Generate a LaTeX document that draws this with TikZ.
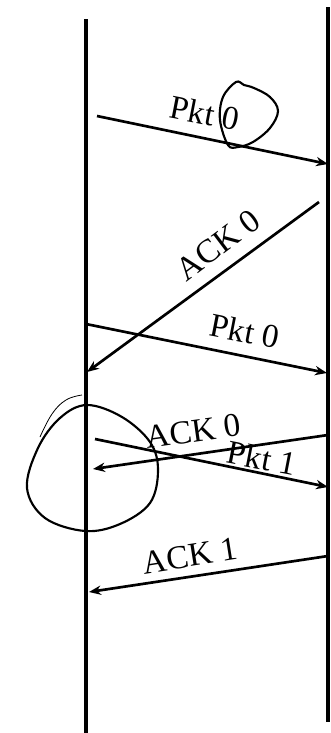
\documentclass[tikz,border=0pt]{standalone}
\usepackage{fontspec}
\setmainfont{Liberation Serif}
\usetikzlibrary{arrows.meta}

\tikzset{every picture/.style={line width=0.75pt}}

\begin{document}
\begin{tikzpicture}[
            x=0.75pt,
            y=0.75pt,
            yscale=-1,
            xscale=1,
            every node/.style={text=black},
            line width=0.75pt,
            timeline/.style={line width=2.4pt},
            msg/.style={line width=2pt,-{Stealth[length=9pt,width=7pt]}},
            msglabel/.style={font=\fontsize{25}{30}\selectfont,inner sep=0pt},
            scribble/.style={line width=1.6pt}
        ]
            \useasboundingbox (0,0) rectangle (330,733);
            \coordinate (sndtop) at (86,19);
            \coordinate (sndbot) at (86,733);
            \coordinate (rcvtop) at (328,7);
            \coordinate (rcvbot) at (328,722);
            \draw [timeline] (sndtop) -- (sndbot);
            \draw [timeline] (rcvtop) -- (rcvbot);
            \coordinate (pktzeroa) at (97,116);
            \coordinate (pktzeroaend) at (328,164);
            \coordinate (ackzeroa) at (319,202);
            \coordinate (ackzeroaend) at (87,372);
            \coordinate (pktzerob) at (86,324);
            \coordinate (pktzerobend) at (327,373);
            \coordinate (ackzerob) at (328,435);
            \coordinate (ackzerobend) at (93,469);
            \coordinate (pktone) at (95,439);
            \coordinate (pktoneend) at (328,487);
            \coordinate (ackone) at (328,556);
            \coordinate (ackoneend) at (89,592);
            \draw [msg] (pktzeroa) -- (pktzeroaend);
            \draw [msg] (ackzeroa) -- (ackzeroaend);
            \draw [msg] (pktzerob) -- (pktzerobend);
            \draw [msg] (ackzerob) -- (ackzerobend);
            \draw [msg] (pktone) -- (pktoneend);
            \draw [msg] (ackone) -- (ackoneend);
            \node [msglabel, rotate=-11] (lblpktzeroa) at (205,113) {Pkt 0};
            \node [msglabel, rotate=37] (lblackzeroa) at (218,245) {ACK 0};
            \node [msglabel, rotate=-11] (lblpktzerob) at (245,331) {Pkt 0};
            \node [msglabel, rotate=8] (lblackzerob) at (193,431) {ACK 0};
            \node [msglabel, rotate=-11] (lblpktone) at (262,458) {Pkt 1};
            \node [msglabel, rotate=9] (lblackone) at (190,556) {ACK 1};
            \draw [scribble] plot [smooth cycle, tension=0.6] coordinates {(228,145) (220,120) (223,97) (236,82) (244,85) (254,88) (270,97) (278,111) (270,128) (253,142) (238,147)};
            \draw [scribble] plot [smooth cycle, tension=0.6] coordinates {(87,405) (122,417) (150,442) (158,470) (150,503) (120,524) (85,531) (45,518) (27,488) (38,448) (60,418)};
            \draw [line width=0.6pt] plot [smooth, tension=0.7] coordinates {(40,437) (52,414) (66,400) (82,395)};
        \end{tikzpicture}
\end{document}
